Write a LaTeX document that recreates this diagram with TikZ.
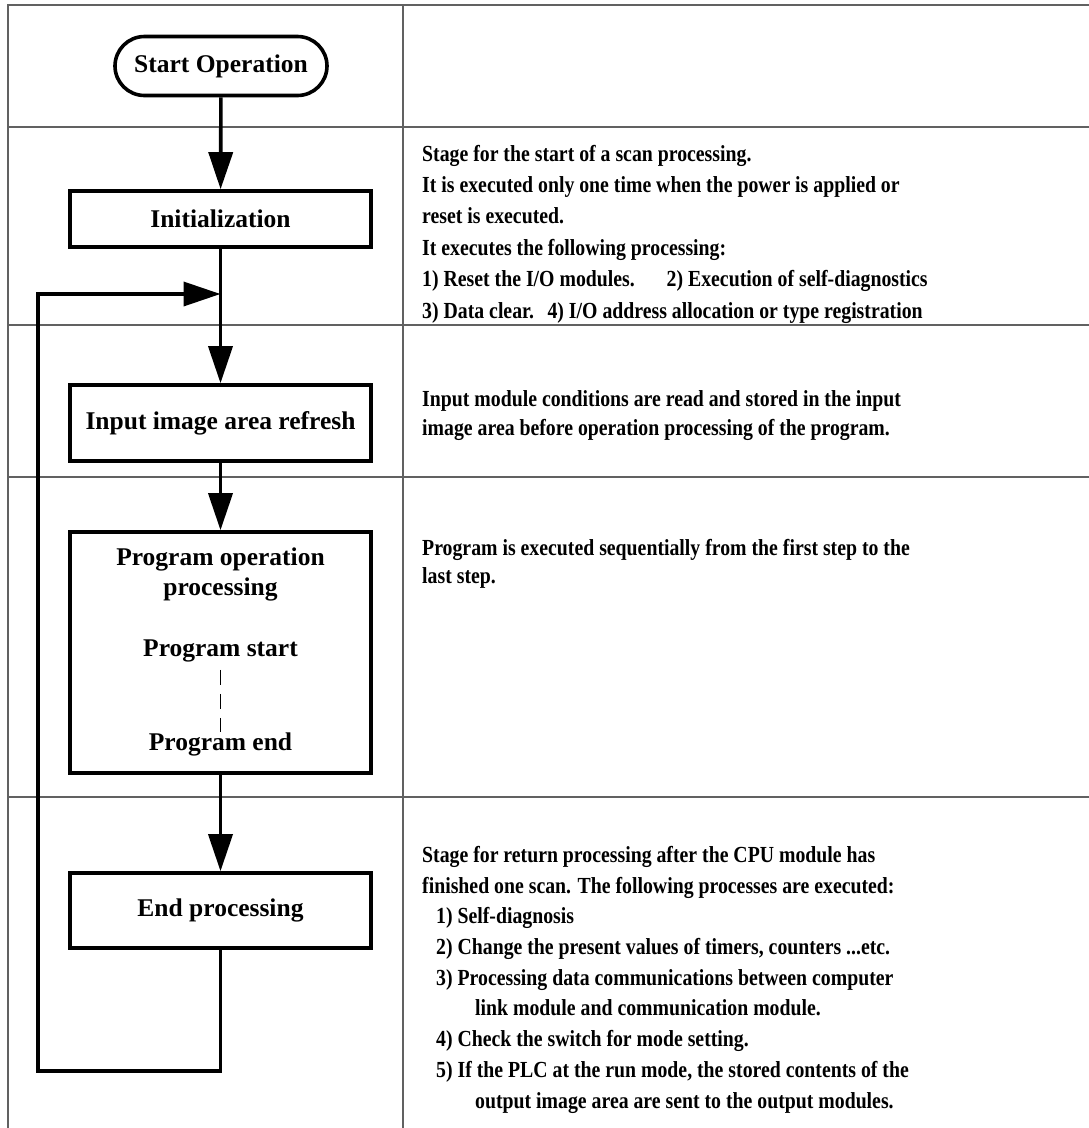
\documentclass[tikz,border=0pt]{standalone}
\usepackage{fontspec}
\setmainfont{Liberation Serif}
\newfontfamily\notefont{Liberation Serif}[FakeStretch=0.86]
\usetikzlibrary{arrows.meta}

\begin{document}
\begin{tikzpicture}[x=1pt,y=-1pt,
  frame/.style={draw=black!62, line width=1.8pt},
  stepbox/.style={draw, line width=3.6pt, minimum width=301pt, inner sep=0pt,
    font=\fontsize{25.5}{30}\selectfont\bfseries},
  termbox/.style={stepbox, minimum width=212pt, minimum height=59pt, rounded corners=29.5pt},
  label/.style={inner sep=0pt, font=\fontsize{25.5}{30}\selectfont\bfseries},
  conn/.style={line width=3.6pt},
  flow/.style={conn, -{Triangle[length=37pt,width=24pt]}},
  note/.style={inner sep=0pt, align=left, anchor=base west},
  notefont/.style={font=\notefont\bfseries\fontsize{23}{#1}\selectfont}]

\useasboundingbox (0,0) rectangle (1089,1128);
\fill[white] (0,0) rectangle (1089,1128);

% table grid
\draw[frame] (1095,5) -- (8,5) -- (8,1135);
\draw[frame] (403,5) -- (403,1135);
\foreach \yy in {127,325,477,797}
  \draw[frame] (8,\yy) -- (1095,\yy);

% flow chart boxes
\node[termbox] (start) at (221,66) {Start Operation};
\node[stepbox, minimum height=56pt] (init) at (220.5,219) {Initialization};
\node[stepbox, minimum height=76pt] (input) at (220.5,423) {Input image area refresh};
\node[stepbox, minimum height=241pt] (prog) at (220.5,652.5) {};
\node[stepbox, minimum height=75pt] (endp) at (220.5,910.5) {End processing};

% contents of the program box
\node[label, anchor=base] (pop1) at (220.5,565) {Program operation};
\node[label, anchor=base] (pop2) at (220.5,595) {processing};
\node[label, anchor=base] (pstart) at (220.5,656) {Program start};
\node[label, anchor=base] (pend) at (220.5,750) {Program end};
\draw[line width=1.8pt, dash pattern=on 15pt off 9pt] (pstart.south) ++(0,8) coordinate (d1) -- (d1 |- pend.north);

% connectors
\coordinate (lb) at (38,1071);
\coordinate (join) at (220.5,294);
\draw[flow] (start) -- (init);
\draw[flow] (init) -- (input);
\draw[flow] (input) -- (prog);
\draw[flow] (prog) -- (endp);
\draw[flow] (endp.south) |- (lb) |- (join);

% descriptions (each anchored on the baseline of its last line)
\node[note, notefont=31.4] (n1) at (422,318) {Stage for the start of a scan processing.\\
It is executed only one time when the power is applied or\\
reset is executed.\\
It executes the following processing:\\
1) Reset the I/O modules.\hspace{1.1em} 2) Execution of self-diagnostics\\
3) Data clear.\hspace{0.3em} 4) I/O address allocation or type registration};

\node[note, notefont=29] (n2) at (422,435) {Input module conditions are read and stored in the input\\
image area before operation processing of the program.};

\node[note, notefont=28] (n3) at (422,583) {Program is executed sequentially from the first step to the\\
last step.};

\node[note, notefont=30.7] (n4) at (422,1108) {Stage for return processing after the CPU module has\\
finished one scan. The following processes are executed:\\
\hspace*{14pt}1) Self-diagnosis\\
\hspace*{14pt}2) Change the present values of timers, counters ...etc.\\
\hspace*{14pt}3) Processing data communications between computer\\
\hspace*{53pt}link module and communication module.\\
\hspace*{14pt}4) Check the switch for mode setting.\\
\hspace*{14pt}5) If the PLC at the run mode, the stored contents of the\\
\hspace*{53pt}output image area are sent to the output modules.};

\end{tikzpicture}
\end{document}
